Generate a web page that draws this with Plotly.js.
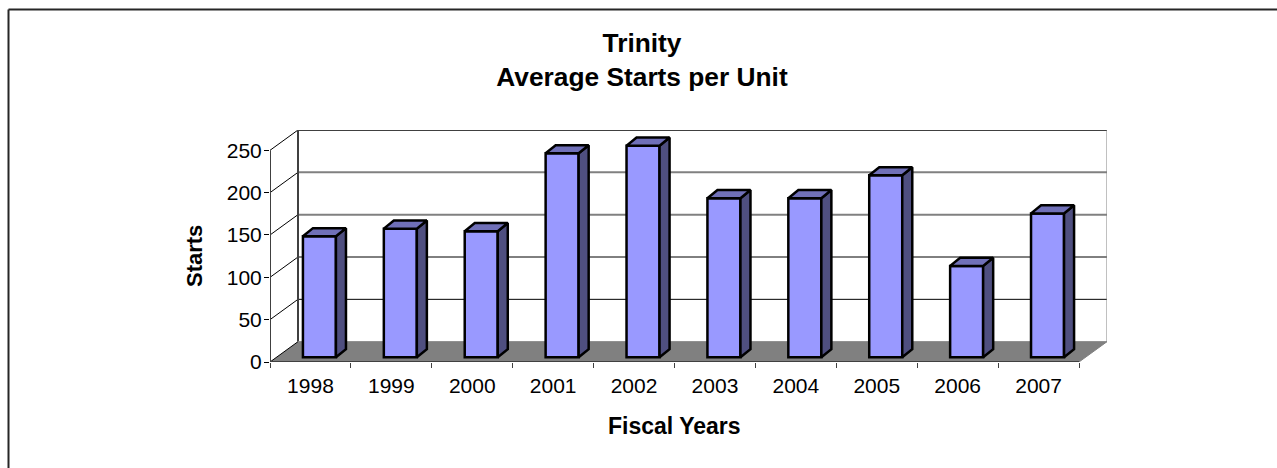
<!DOCTYPE html>
<html><head><meta charset="utf-8">
<script src="https://cdn.plot.ly/plotly-3.0.1.min.js"></script>
<style>html,body{margin:0;padding:0;background:#fff;overflow:hidden}#c{width:1277px;height:468px}</style>
</head><body><div id="c"></div>
<script>
const years = [1998,1999,2000,2001,2002,2003,2004,2005,2006,2007];
const starts = [143,152,149,241,250,188,188,215,108,170];
const valueTicks = [0,50,100,150,200,250];
const chartTitle = 'Trinity<br>Average Starts per Unit';
const xTitle = 'Fiscal Years';
const yTitle = 'Starts';

// 3-D projection, in axis units
const wallDx = 0.346, wallDy = 24;      // front plane to back wall
const barDx = 0.124, barDy = 9.6;       // bar depth
const barBase = 5.5, barOffset = -0.093, barWidth = 0.408;
const x0 = years[0]-0.5, x1 = years[years.length-1]+0.5;

const FONT = '"Liberation Sans", Arial, sans-serif';
const shapes = [];
const addLine = (xa,ya,xb,yb,color,width)=>shapes.push({type:'line',xref:'x',yref:'y',layer:'below',x0:xa,y0:ya,x1:xb,y1:yb,line:{color,width}});

// floor
shapes.push({type:'path',xref:'x',yref:'y',layer:'below',
  path:`M${x0},0 L${x1},0 L${x1+wallDx},${wallDy} L${x0+wallDx},${wallDy} Z`,
  fillcolor:'#808080',line:{width:0}});
// back wall grid and side-wall diagonals
valueTicks.forEach(v=>{
  const style = (v===150||v===200) ? ['#808080',2] : ['#000000',1];
  if(v>0) addLine(x0+wallDx,v+wallDy,x1+wallDx,v+wallDy,style[0],v===250?1.5:style[1]);
  addLine(x0,v,x0+wallDx,v+wallDy,'#000000',1);
});
addLine(x0+wallDx,wallDy,x0+wallDx,250+wallDy,'#404040',2);
addLine(x1+wallDx,wallDy,x1+wallDx,250+wallDy,'#808080',1);
addLine(x1,0,x1+wallDx,wallDy,'#808080',1);
addLine(x0+wallDx,wallDy,x1+wallDx,wallDy,'#808080',1);
// front axes
addLine(x0,0,x0,250,'#404040',2);
addLine(x0,0,x1,0,'#404040',2);

// frame: top and left edges only, in paper units
const ML=270,MR=170,MT=130,MB=106,W=1277,H=468,pw=W-ML-MR,ph=H-MT-MB;
const px=p=>(p-ML)/pw, py=p=>1-(p-MT)/ph;
[[8.5,9.5,W,9.5],[8.5,9.5,8.5,H]].forEach(s=>shapes.push({type:'line',xref:'paper',yref:'paper',
  x0:px(s[0]),y0:py(s[1]),x1:px(s[2]),y1:py(s[3]),line:{color:'#262626',width:2}}));

// side and top faces, derived from the values
const sideFace={x:[],y:[]}, topFace={x:[],y:[]};
years.forEach((yr,i)=>{
  const a=yr+barOffset, b=a+barWidth, lo=barBase, hi=barBase+starts[i];
  sideFace.x.push(b,b+barDx,b+barDx,b,b,null);
  sideFace.y.push(lo,lo+barDy,hi+barDy,hi,lo,null);
  topFace.x.push(a,b,b+barDx,a+barDx,a,null);
  topFace.y.push(hi,hi,hi+barDy,hi+barDy,hi,null);
});
const outline={color:'#000000',width:2.5};
const traces=[
 {type:'bar',x:years,y:starts,base:barBase,offset:barOffset,width:barWidth,
  marker:{color:'#9999FF',line:outline},hoverinfo:'skip',showlegend:false},
 {type:'scatter',mode:'lines',x:sideFace.x,y:sideFace.y,fill:'toself',fillcolor:'#4F4F80',line:outline,hoverinfo:'skip',showlegend:false},
 {type:'scatter',mode:'lines',x:topFace.x,y:topFace.y,fill:'toself',fillcolor:'#7070B8',line:outline,hoverinfo:'skip',showlegend:false}
];
const titleFont=(s)=>({family:FONT,size:s,color:'#000',weight:'bold'});
const layout={
 width:W,height:H,paper_bgcolor:'#fff',plot_bgcolor:'rgba(0,0,0,0)',showlegend:false,
 margin:{l:ML,r:MR,t:MT,b:MB,pad:0},
 font:{family:FONT,color:'#000'},
 title:{text:chartTitle,font:titleFont(26.3),x:642/W,xanchor:'center',xref:'container',y:1-52/H,yanchor:'top',yref:'container'},
 xaxis:{range:[x0,x1+wallDx],showgrid:false,zeroline:false,showline:false,tickmode:'array',tickvals:years,ticktext:years.map(String),ticks:'',
   tickfont:{size:21,family:FONT,color:'#000'},ticklabelstandoff:9,
   minor:{tickmode:'array',tickvals:years.map(y=>y-0.5).concat([x1]),ticks:'outside',ticklen:5,tickwidth:1,tickcolor:'#404040',showgrid:false}},
 yaxis:{range:[0,250+wallDy],showgrid:false,zeroline:false,showline:false,tickmode:'array',tickvals:valueTicks,ticktext:valueTicks.map(String),
   ticks:'outside',ticklen:5,tickwidth:1,tickcolor:'#000',ticklabelstandoff:-2,tickfont:{size:21,family:FONT,color:'#000'}},
 annotations:[
  {text:xTitle,xref:'paper',yref:'paper',x:px(674.5),y:py(426),xanchor:'center',yanchor:'middle',showarrow:false,font:titleFont(23)},
  {text:yTitle,xref:'paper',yref:'paper',x:px(194),y:py(256),xanchor:'center',yanchor:'middle',textangle:-90,showarrow:false,font:titleFont(22)}
 ],
 shapes
};
Plotly.newPlot('c',traces,layout,{displayModeBar:false,staticPlot:true});
</script></body></html>
